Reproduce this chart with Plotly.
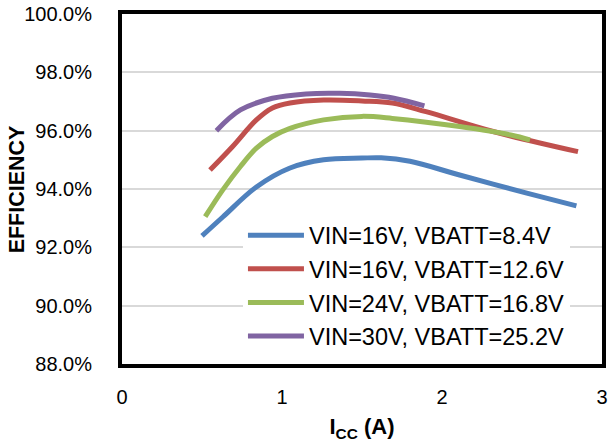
import plotly.graph_objects as go

names = ["VIN=16V, VBATT=8.4V", "VIN=16V, VBATT=12.6V",
         "VIN=24V, VBATT=16.8V", "VIN=30V, VBATT=25.2V"]
colors = ["#4F81BD", "#C0504D", "#9BBB59", "#8064A2"]

x_blue = [0.50, 0.63, 0.84, 1.05, 1.26, 1.50, 1.62, 1.80, 2.11, 2.53, 2.84]
y_blue = [92.39, 93.04, 94.07, 94.72, 95.00, 95.06, 95.07, 94.95, 94.48, 93.86, 93.42]

x_red = [0.55, 0.69, 0.84, 0.94, 1.05, 1.26, 1.50, 1.69, 1.90, 2.32, 2.85]
y_red = [94.65, 95.45, 96.37, 96.78, 96.95, 97.05, 97.02, 96.95, 96.65, 95.97, 95.28]

x_green = [0.52, 0.63, 0.74, 0.84, 0.94, 1.05, 1.26, 1.50, 1.69, 2.11, 2.43, 2.55]
y_green = [93.05, 93.97, 94.77, 95.40, 95.80, 96.08, 96.37, 96.49, 96.42, 96.14, 95.85, 95.68]

x_purple = [0.59, 0.74, 0.94, 1.15, 1.36, 1.55, 1.70, 1.89]
y_purple = [96.00, 96.71, 97.11, 97.26, 97.28, 97.22, 97.11, 96.85]

y_ticks = [0.88, 0.90, 0.92, 0.94, 0.96, 0.98, 1.00]
x_ticks = [0, 1, 2, 3]
y_title = "EFFICIENCY"
x_title = "I<sub>CC</sub> (A)"

series = [(x_blue, y_blue), (x_red, y_red), (x_green, y_green), (x_purple, y_purple)]

FONT = "Liberation Sans, Arial, sans-serif"

fig = go.Figure()
for (xs, ys), nm, c in zip(series, names, colors):
    fig.add_trace(go.Scatter(
        x=xs, y=[v / 100 for v in ys], mode="lines", name=nm,
        line=dict(color=c, width=5, shape="spline", smoothing=1.0),
    ))

fig.update_layout(
    width=608, height=444,
    margin=dict(l=122, r=6, t=14, b=80),
    paper_bgcolor="white", plot_bgcolor="white",
    font=dict(family=FONT, size=20, color="black"),
    showlegend=True,
    legend=dict(
        x=0.252, y=0.43, xanchor="left", yanchor="top",
        bgcolor="white", borderwidth=0,
        font=dict(family=FONT, size=23.5, color="black"),
        itemwidth=56, tracegroupgap=0,
    ),
    annotations=[dict(
        text="<b>" + y_title + "</b>", textangle=-90,
        xref="paper", yref="paper", x=-0.218, y=0.5,
        xanchor="center", yanchor="middle", showarrow=False,
        font=dict(family=FONT, size=21.5, color="black"),
    )],
)

fig.update_xaxes(
    range=[0, 3], tickvals=x_ticks, ticktext=[str(v) for v in x_ticks],
    showgrid=False, zeroline=False, automargin=False,
    showline=True, linewidth=4, linecolor="black", mirror=True,
    ticks="", ticklabelstandoff=12,
    tickfont=dict(size=20),
    title=dict(text="<b>" + x_title + "</b>", font=dict(size=22), standoff=13),
)
fig.update_yaxes(
    range=[0.88, 1.00], tickvals=y_ticks, tickformat=".1%",
    showgrid=True, gridcolor="#D9D9D9", gridwidth=2, zeroline=False, automargin=False,
    showline=True, linewidth=4, linecolor="black", mirror=True,
    ticks="", ticklabelstandoff=22,
    tickfont=dict(size=20),
)

fig.write_html(
    "out.html",
    config={"displayModeBar": False},
    post_script="document.body.style.margin='0px';document.body.style.overflow='hidden';",
)
